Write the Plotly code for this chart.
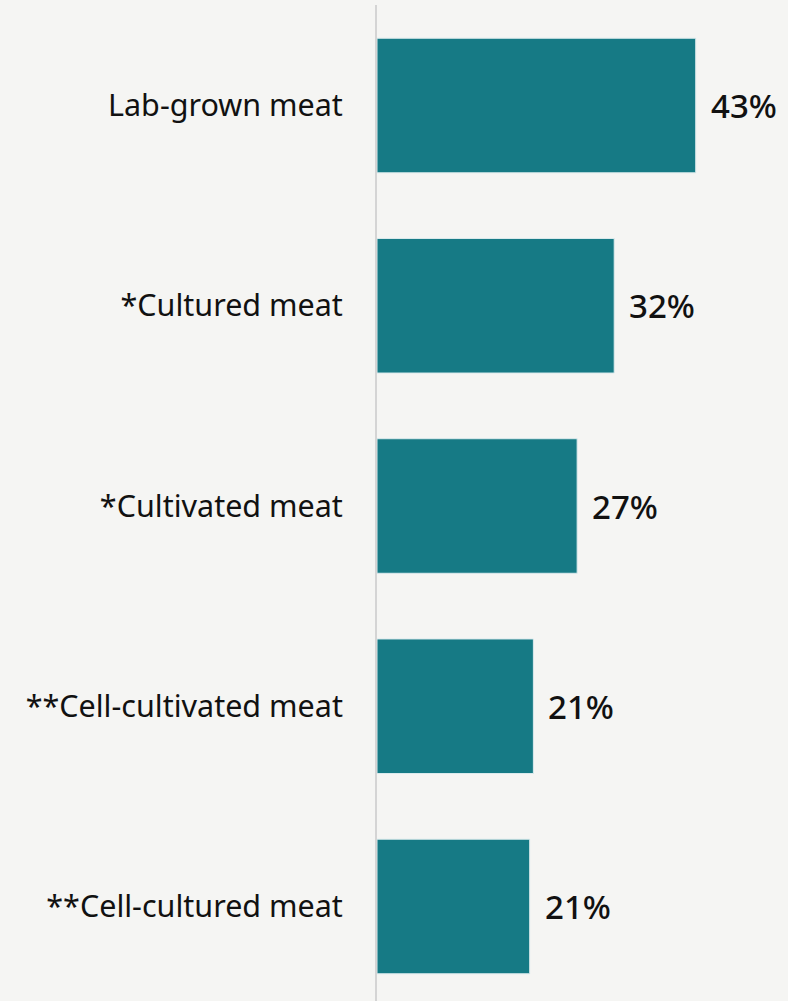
import plotly.graph_objects as go

categories = ["Lab-grown meat", "*Cultured meat", "*Cultivated meat", "**Cell-cultivated meat", "**Cell-cultured meat"]
values = [43, 32, 27, 21.1, 20.6]
value_labels = ["43%", "32%", "27%", "21%", "21%"]

BG = "#f5f5f3"
BAR = "#167a85"
FONT = "Noto Sans"

fig = go.Figure()
fig.add_trace(go.Bar(
    x=values, y=categories, orientation="h",
    marker=dict(color=BAR, line=dict(color="#dcebed", width=1)),
    width=0.672, hoverinfo="skip",
))
for c, v, t in zip(categories, values, value_labels):
    fig.add_annotation(x=v, y=c, text=t, showarrow=False, xanchor="left", xshift=13,
                       font=dict(family=FONT, size=33, color="#111111", weight=500))

fig.update_layout(
    width=788, height=1001,
    margin=dict(l=377, r=0, t=5, b=0),
    paper_bgcolor=BG, plot_bgcolor=BG,
    showlegend=False, bargap=0.3,
    xaxis=dict(range=[0, 55.45], showgrid=False, zeroline=False, showticklabels=False, fixedrange=True),
    yaxis=dict(range=[4.472, -0.502], showgrid=False, zeroline=False, showline=True,
               linecolor="#d4d4d4", linewidth=2, ticks="", ticklabelstandoff=26,
               tickfont=dict(family=FONT, size=30.5, color="#111111")),
)
fig.write_html("out.html")
